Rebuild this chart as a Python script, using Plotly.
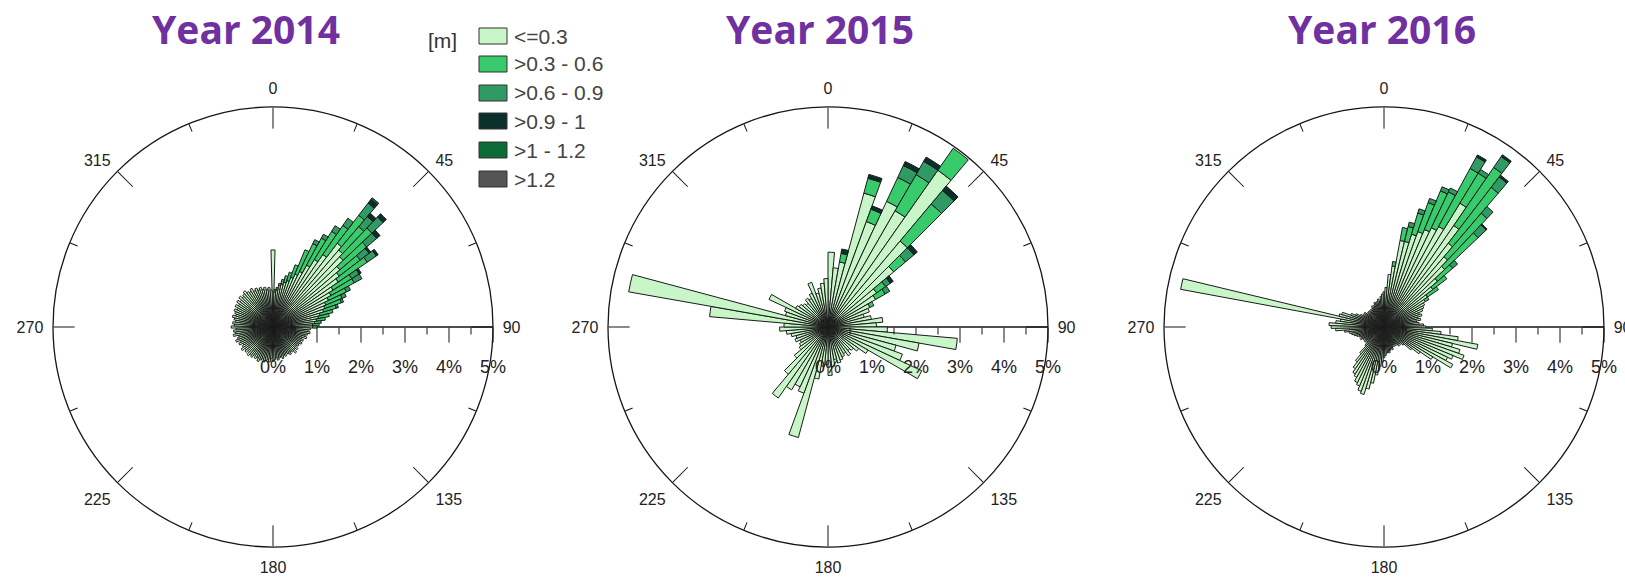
import plotly.graph_objects as go

# ---------------- data ----------------
CLASS_NAMES = ["<=0.3", ">0.3 - 0.6", ">0.6 - 0.9", ">0.9 - 1", ">1 - 1.2", ">1.2"]
CLASS_COLORS = ["#c8f6c8", "#37cb6b", "#2f9a63", "#0b302b", "#0b6b35", "#555555"]
YEARS = ["Year 2014", "Year 2015", "Year 2016"]
ANG_TICKS = [0, 45, 90, 135, 180, 225, 270, 315]
ANG_LABELS = ["0", "45", "90", "135", "180", "225", "270", "315"]
RAD_TICKS = [0, 1, 2, 3, 4, 5]
RAD_LABELS = ["0%", "1%", "2%", "3%", "4%", "5%"]

# 2014 : 3-degree direction bins (0, 3, ..., 357), frequency in %
DIR_2014 = [3 * i for i in range(120)]
H1_2014 = [1.75, 0.8, 0.85, 0.95, 1.0, 1.05, 1.1, 1.2, 1.3, 1.4,
           1.6, 1.8, 2.0, 2.4, 2.3, 2.2, 2.0, 1.9, 1.8, 1.6,
           1.5, 1.4, 1.3, 1.25, 1.2, 1.1, 1.05, 1.0, 0.95, 0.9,
           0.9, 0.85, 0.8, 0.85, 0.8, 0.75, 0.8, 0.7, 0.75, 0.7,
           0.75, 0.7, 0.72, 0.68, 0.75, 0.7, 0.78, 0.72, 0.68, 0.74,
           0.7, 0.66, 0.72, 0.68, 0.75, 0.7, 0.72, 0.76, 0.7, 0.74,
           0.78, 0.72, 0.8, 0.74, 0.78, 0.82, 0.76, 0.8, 0.85, 0.78,
           0.82, 0.76, 0.84, 0.8, 0.86, 0.78, 0.84, 0.8, 0.88, 0.82,
           0.78, 0.86, 0.8, 0.9, 0.84, 0.8, 0.92, 0.86, 0.9, 0.84,
           0.95, 0.88, 0.92, 0.86, 0.9, 0.95, 0.88, 0.92, 0.96, 0.9,
           0.98, 0.92, 1.0, 0.94, 1.02, 0.96, 1.0, 1.04, 0.98, 0.95,
           1.0, 0.92, 0.96, 0.9, 0.94, 0.88, 0.92, 0.86, 0.9, 0.84]
H2_2014 = [0, 0.05, 0.05, 0.05, 0.1, 0.15, 0.2, 0.3, 0.6, 0.7,
           0.7, 0.75, 0.8, 0.8, 0.7, 0.9, 0.8, 0.6, 0.8, 0.5,
           0.6, 0.45, 0.4, 0.4, 0.3, 0.3, 0.25, 0.2, 0.15, 0.15, 0.1]
H3_2014 = [0, 0, 0, 0, 0, 0, 0, 0, 0, 0.1,
           0.1, 0.15, 0.2, 0.35, 0.3, 0.35, 0.3, 0.25, 0.25, 0.2,
           0.2, 0.1, 0.1, 0.05, 0.05]
H4_2014 = [0, 0, 0, 0, 0, 0, 0, 0, 0, 0,
           0, 0, 0, 0.1, 0.1, 0.1, 0.1, 0.05, 0.05, 0.05]
H5_2014 = [0, 0, 0, 0, 0, 0, 0, 0, 0, 0, 0, 0, 0, 0.05]
H6_2014 = []

# 2015 : 5-degree direction bins (2.5, 7.5, ..., 357.5)
DIR_2015 = [2.5 + 5 * i for i in range(72)]
H1_2015 = [1.7, 1.35, 1.5, 3.15, 2.55, 3.15, 3.05, 4.35, 2.55, 1.95,
           1.35, 1.25, 1.05, 1.0, 0.85, 1.0, 1.25, 1.1, 1.35, 2.95,
           2.1, 1.6, 1.8, 2.35, 1.05, 0.85, 0.75, 0.7, 0.8, 0.7,
           0.75, 0.8, 0.85, 0.75, 0.9, 1.1, 0.85, 0.9, 1.2, 2.6,
           1.6, 1.5, 1.65, 1.97, 1.4, 1.0, 0.8, 0.75, 0.7, 0.8,
           0.75, 0.85, 0.95, 1.1, 1.0, 2.7, 4.6, 1.0, 1.05, 1.48,
           0.85, 0.8, 0.75, 0.7, 0.8, 0.75, 0.85, 1.08, 0.8, 0.9,
           1.0, 1.1]
H2_2015 = [0, 0, 0.2, 0.35, 0.3, 0.6, 0.95, 0.61, 1.1, 0.35,
           0.25, 0.25, 0.1]
H3_2015 = [0, 0, 0, 0, 0, 0.3, 0.35, 0, 0.4, 0.25,
           0.13, 0.12]
H4_2015 = [0, 0, 0.1, 0.09, 0.08, 0.1, 0.11, 0, 0.13, 0.1,
           0.08]
H5_2015 = []
H6_2015 = []

# 2016 : 3-degree direction bins (0, 3, ..., 357)
DIR_2016 = [3 * i for i in range(120)]
H1_2016 = [0.8, 0.9, 1.2, 1.4, 2.0, 2.0, 2.2, 2.3, 2.4, 2.5,
           2.6, 3.3, 2.8, 2.4, 2.1, 1.9, 1.6, 1.4, 1.2, 1.1,
           1.05, 1.0, 0.95, 0.85, 0.9, 0.8, 0.85, 0.75, 0.8, 0.9,
           0.95, 1.1, 1.3, 1.7, 2.17, 1.6, 1.8, 1.93, 1.7, 1.6,
           1.78, 1.3, 1.0, 0.8, 0.6, 0.55, 0.5, 0.55, 0.5, 0.45,
           0.5, 0.45, 0.5, 0.55, 0.5, 0.55, 0.6, 0.55, 0.6, 0.65,
           0.7, 0.8, 0.9, 1.1, 1.3, 1.45, 1.6, 1.55, 1.45, 1.4,
           1.3, 1.25, 1.15, 1.0, 0.8, 0.6, 0.55, 0.5, 0.55, 0.5,
           0.55, 0.6, 0.55, 0.6, 0.65, 0.7, 0.75, 0.8, 0.9, 1.1,
           1.2, 1.25, 1.1, 1.0, 4.7, 1.05, 1.0, 0.8, 0.7, 0.6,
           0.55, 0.5, 0.55, 0.5, 0.45, 0.5, 0.45, 0.5, 0.45, 0.5,
           0.55, 0.5, 0.55, 0.6, 0.55, 0.6, 0.65, 0.6, 0.7, 0.75]
H2_2016 = [0, 0, 0, 0.1, 0.3, 0.35, 0.5, 0.7, 0.95, 0.9,
           1.5, 0.8, 1.6, 1.6, 1.3, 1.05, 0.45, 0.4, 0.3, 0.1]
H3_2016 = [0, 0, 0, 0, 0, 0.1, 0.1, 0.1, 0.1, 0.1,
           0.3, 0.1, 0.3, 0.3, 0.2, 0.25, 0.15]
H4_2016 = [0, 0, 0, 0, 0, 0, 0, 0, 0, 0,
           0.05, 0, 0.05, 0.05, 0, 0.03]
H5_2016 = []
H6_2016 = []

YEAR_DATA = [
    (DIR_2014, 3, [H1_2014, H2_2014, H3_2014, H4_2014, H5_2014, H6_2014]),
    (DIR_2015, 5, [H1_2015, H2_2015, H3_2015, H4_2015, H5_2015, H6_2015]),
    (DIR_2016, 3, [H1_2016, H2_2016, H3_2016, H4_2016, H5_2016, H6_2016]),
]

# ---------------- layout geometry ----------------
W, H = 1625, 577
CENTERS = [(273, 327), (828, 327), (1384, 327)]
RADIUS = 220
TITLE_X = [246, 820, 1382]
INK = "#151515"
FONT = "Liberation Sans, Arial, sans-serif"

fig = go.Figure()

def dom(cx, cy):
    return dict(x=[(cx - RADIUS) / W, (cx + RADIUS) / W],
                y=[(H - cy - RADIUS) / H, (H - cy + RADIUS) / H])

layout = {}
for k, ((cx, cy), (dirs, width, classes)) in enumerate(zip(CENTERS, YEAR_DATA)):
    main = "polar" if k == 0 else f"polar{k + 1}"
    minor = f"polar{k + 4}"
    labs = f"polar{k + 7}"
    n = len(dirs)
    for name, color, vals in zip(CLASS_NAMES, CLASS_COLORS, classes):
        full = list(vals) + [0] * (n - len(vals))
        th = [d for d, v in zip(dirs, full) if v > 0]
        rr = [v for v in full if v > 0]
        if not rr:
            continue
        fig.add_trace(go.Barpolar(
            theta=th, r=rr, width=width, name=name, subplot=main, showlegend=False,
            marker=dict(color=color, line=dict(color="#1a1a1a", width=1.0)),
        ))
    d = dom(cx, cy)
    layout[main] = dict(
        domain=d, bgcolor="rgba(0,0,0,0)", barmode="stack",
        angularaxis=dict(rotation=90, direction="clockwise", tickmode="array",
                         tickvals=ANG_TICKS, ticks="inside", showticklabels=False,
                         ticklen=21, tickwidth=1.3, tickcolor=INK, showline=True,
                         linecolor=INK, linewidth=1.3, showgrid=False),
        radialaxis=dict(range=[0, 5], angle=0, side="clockwise", tickmode="array",
                        tickvals=RAD_TICKS[1:], ticks="outside", ticklen=15, tickwidth=1.3,
                        tickcolor=INK, showticklabels=False, showgrid=False,
                        showline=True, linecolor=INK, linewidth=1.3, layer="below traces"),
    )
    layout[minor] = dict(
        domain=d, bgcolor="rgba(0,0,0,0)",
        angularaxis=dict(rotation=90, direction="clockwise", tickmode="array",
                         tickvals=[22.5 + 45 * i for i in range(8)], ticks="inside",
                         ticklen=8, tickwidth=1.2, tickcolor=INK, showline=False,
                         showticklabels=False, showgrid=False),
        radialaxis=dict(range=[0, 5], angle=0, side="clockwise", tickmode="array",
                        tickvals=[0.5, 1.5, 2.5, 3.5, 4.5], ticks="outside", ticklen=7,
                        tickwidth=1.2, tickcolor=INK, showticklabels=False,
                        showgrid=False, showline=False),
    )
    layout[labs] = dict(
        domain=d, bgcolor="rgba(0,0,0,0)",
        angularaxis=dict(rotation=90, direction="clockwise", tickmode="array",
                         tickvals=ANG_TICKS, ticktext=ANG_LABELS, ticks="outside",
                         ticklen=6, tickcolor="rgba(0,0,0,0)", showline=False,
                         showgrid=False, tickfont=dict(family=FONT, size=16, color="#222222")),
        radialaxis=dict(range=[0, 5], angle=0, side="clockwise", tickmode="array",
                        tickvals=RAD_TICKS, ticktext=RAD_LABELS, ticks="outside",
                        ticklen=24, tickcolor="rgba(0,0,0,0)", showgrid=False,
                        showline=False, tickangle=0,
                        tickfont=dict(family=FONT, size=18, color="#222222")),
    )
    # empty traces so the overlay subplots are drawn
    fig.add_trace(go.Barpolar(theta=[0], r=[0], subplot=minor, showlegend=False,
                              marker=dict(color="rgba(0,0,0,0)"), hoverinfo="skip"))
    fig.add_trace(go.Barpolar(theta=[0], r=[0], subplot=labs, showlegend=False,
                              marker=dict(color="rgba(0,0,0,0)"), hoverinfo="skip"))

annotations = []
for t, x in zip(YEARS, TITLE_X):
    annotations.append(dict(text=t, x=x / W, y=1 - 28 / H, xref="paper", yref="paper",
                            xanchor="center", yanchor="middle", showarrow=False,
                            font=dict(family="Open Sans", size=39, color="#7030a0", weight=700)))

# legend drawn as boxes + labels
shapes = []
LEG_ROWS = [36, 64, 93, 121, 150, 179]
for name, color, yc in zip(CLASS_NAMES, CLASS_COLORS, LEG_ROWS):
    shapes.append(dict(type="rect", xref="paper", yref="paper",
                       x0=479 / W, x1=507 / W, y0=1 - (yc + 8) / H, y1=1 - (yc - 8) / H,
                       fillcolor=color, line=dict(color="#333333", width=1)))
    annotations.append(dict(text=name, x=512 / W, y=1 - yc / H, xref="paper", yref="paper",
                            xanchor="left", yanchor="middle", showarrow=False,
                            font=dict(family=FONT, size=21, color="#444444")))
annotations.append(dict(text="[m]", x=459 / W, y=1 - 41 / H, xref="paper", yref="paper",
                        xanchor="right", yanchor="middle", showarrow=False,
                        font=dict(family=FONT, size=21, color="#333333")))

fig.update_layout(
    width=W, height=H, margin=dict(l=0, r=0, t=0, b=0),
    paper_bgcolor="white", plot_bgcolor="white", template="none",
    showlegend=False, annotations=annotations, shapes=shapes, **layout,
)

fig.write_html("out.html")
